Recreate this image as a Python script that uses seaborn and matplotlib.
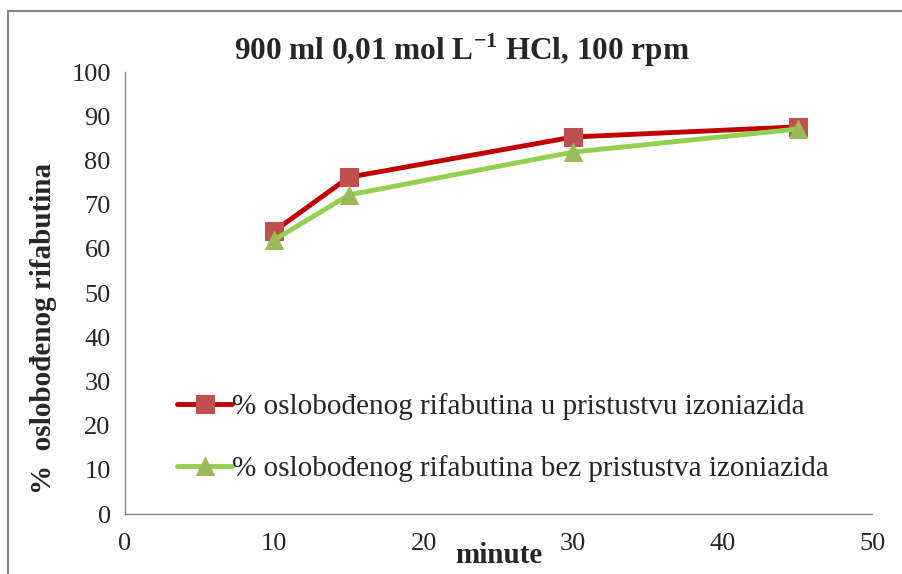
import matplotlib
matplotlib.use('Agg')
import matplotlib.pyplot as plt
import seaborn as sns
import pandas as pd

# vrijeme uzorkovanja (minute)
minute = [10, 15, 30, 45]
# % oslobođenog rifabutina
sa_izoniazidom = [64.0, 76.2, 85.3, 87.6]
bez_izoniazida = [62.0, 72.2, 81.9, 87.1]

naziv_1 = '% oslobođenog rifabutina u pristustvu izoniazida'
naziv_2 = '% oslobođenog rifabutina bez pristustva izoniazida'

df = pd.DataFrame({
    'minute': minute * 2,
    'vrijednost': sa_izoniazidom + bez_izoniazida,
    'serija': [naziv_1] * len(minute) + [naziv_2] * len(minute),
})

sns.set_style('white')
plt.rcParams['font.family'] = ['Liberation Serif', 'DejaVu Serif']

fig = plt.figure(figsize=(9.03, 5.74), dpi=100)
ax = fig.add_axes([0.138, 0.1045, 0.828, 0.770])

sns.lineplot(data=df, x='minute', y='vrijednost', hue='serija', style='serija',
             palette={naziv_1: '#c00000', naziv_2: '#92d050'},
             markers={naziv_1: 's', naziv_2: '^'}, dashes=False,
             linewidth=3.5, markersize=13, ax=ax)

# boje markera kao u Excelu
for line, mc in zip(ax.get_lines(), ['#c0504d', '#9bbb59']):
    line.set_markerfacecolor(mc)
    line.set_markeredgecolor(mc)

ax.set_xlim(0, 50)
ax.set_ylim(0, 100)
ax.set_xticks(range(0, 51, 10))
ax.set_yticks(range(0, 101, 10))
ax.tick_params(axis='both', labelsize=19, direction='out', length=5, color='#868686', width=1, pad=5)
ax.tick_params(axis='x', pad=9)
for s in ['top', 'right']:
    ax.spines[s].set_visible(False)
for s in ['left', 'bottom']:
    ax.spines[s].set_color('#868686')
    ax.spines[s].set_linewidth(1)

ax.set_xlabel('minute', fontsize=21, fontweight='bold', labelpad=-10)
ax.set_ylabel('%  oslobođenog rifabutina', fontsize=21, fontweight='bold')
ax.yaxis.set_label_coords(-0.09, 0.42)
fig.text(0.512, 0.913, r'900 ml 0,01 mol L$^{\mathregular{-1}}$ HCl, 100 rpm', fontsize=22.5,
         fontweight='bold', ha='center', va='center')

leg = ax.legend(loc='lower left', bbox_to_anchor=(0.035, 0.013), frameon=False, fontsize=21,
                handlelength=1.9, handletextpad=0.0, labelspacing=1.2)
for h, mc in zip(leg.legend_handles, ['#c0504d', '#9bbb59']):
    h.set_markerfacecolor(mc)
    h.set_markeredgecolor(mc)

# okvir oko grafikona (vidi se samo lijevi i gornji rub)
fig.patches.append(plt.Rectangle((0.0094, -0.1), 1.2, 1.08, transform=fig.transFigure,
                                 fill=False, edgecolor='#868686', linewidth=1.5))

fig.savefig('out.png', dpi=100)
